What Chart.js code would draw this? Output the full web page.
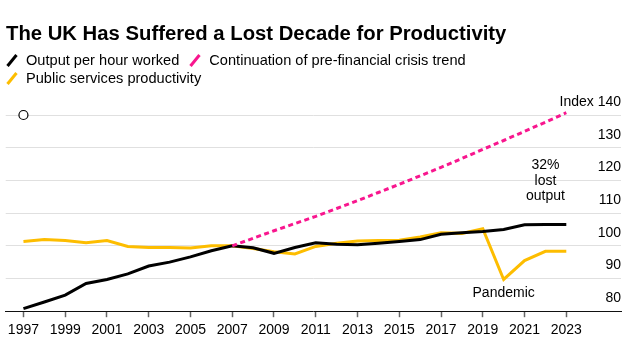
<!DOCTYPE html>
<html>
<head>
<meta charset="utf-8">
<script src="https://cdn.jsdelivr.net/npm/chart.js@4"></script>
<style>
  body { margin: 0; background: #fff; font-family: "Liberation Sans", Arial, sans-serif; color: #000; }
  #wrap { position: relative; width: 634px; height: 348px; }
  #chart { position: absolute; left: 0; top: 0; }
  .title { position: absolute; left: 6px; top: 23px; font-size: 20.3px; line-height: 20px; font-weight: bold; white-space: nowrap; }
  .legend { position: absolute; left: 6px; font-size: 14.6px; line-height: 18px; white-space: nowrap; }
  .legend span.item { display: inline-flex; align-items: center; margin-right: 10px; }
  .legend svg { margin-right: 8px; }
</style>
</head>
<body>
<div id="wrap">
  <canvas id="chart" width="634" height="348"></canvas>
  <div class="title">The UK Has Suffered a Lost Decade for Productivity</div>
  <div class="legend" id="legend1" style="top:51px"></div>
  <div class="legend" id="legend2" style="top:69px"></div>
</div>
<script>
const years = [1997, 1998, 1999, 2000, 2001, 2002, 2003, 2004, 2005, 2006, 2007, 2008, 2009, 2010,
  2011, 2012, 2013, 2014, 2015, 2016, 2017, 2018, 2019, 2020, 2021, 2022, 2023];

const outputPerHour = [80.8, 82.8, 84.9, 88.5, 89.7, 91.4, 93.8, 95.0, 96.6, 98.5, 100.0, 99.4, 97.7, 99.5,
  100.9, 100.5, 100.3, 100.8, 101.3, 101.9, 103.5, 104.0, 104.4, 105.0, 106.4, 106.5, 106.5];

const publicServices = [101.3, 101.9, 101.6, 100.9, 101.6, 99.8, 99.5, 99.5, 99.3, 100.0, 100.0, 99.2, 98.2, 97.5,
  99.8, 100.8, 101.5, 101.6, 101.7, 102.7, 104.0, 103.8, 105.2, 89.7, 95.5, 98.3, 98.3];

const preCrisisTrend = [null, null, null, null, null, null, null, null, null, null, 100.0, 102.3, 104.6, 106.8,
  109.0, 111.4, 113.8, 116.3, 118.8, 121.4, 124.0, 126.7, 129.5, 132.2, 135.0, 137.8, 140.7];

const xTickYears = [1997, 1999, 2001, 2003, 2005, 2007, 2009, 2011, 2013, 2015, 2017, 2019, 2021, 2023];
const yTicks = [80, 90, 100, 110, 120, 130, 140];

const seriesNames = ['Output per hour worked', 'Continuation of pre-financial crisis trend', 'Public services productivity'];
const seriesColors = ['#000000', '#f8168e', '#fdbd00'];

// little open circle sitting at the top-left of the plot
const markerPoint = [{ x: 1997, y: 140 }];

// annotations: [text lines, x year, y value]
const notes = [
  { lines: ['32%', 'lost', 'output'], x: 2022, y: 124.6 },
  { lines: ['Pandemic'], x: 2020, y: 85.6 }
];

function toPoints(values) {
  return years.map((y, i) => ({ x: y, y: values[i] }));
}

function legendItem(name, color) {
  return '<span class="item"><svg width="12" height="13"><line x1="1.5" y1="12" x2="10.5" y2="1" stroke="' + color +
    '" stroke-width="3"/></svg>' + name + '</span>';
}
document.getElementById('legend1').innerHTML = legendItem(seriesNames[0], seriesColors[0]) + legendItem(seriesNames[1], seriesColors[1]);
document.getElementById('legend2').innerHTML = legendItem(seriesNames[2], seriesColors[2]);

const notesPlugin = {
  id: 'notes',
  afterDatasetsDraw(chart) {
    const ctx = chart.ctx;
    const xs = chart.scales.x, ys = chart.scales.y;
    ctx.save();
    ctx.fillStyle = '#000';
    ctx.font = '14px "Liberation Sans", Arial, sans-serif';
    ctx.textAlign = 'center';
    ctx.textBaseline = 'middle';
    notes.forEach(n => {
      const px = xs.getPixelForValue(n.x);
      const py = ys.getPixelForValue(n.y);
      n.lines.forEach((t, i) => ctx.fillText(t, px, py + i * 15.5));
    });
    ctx.restore();
  }
};

new Chart(document.getElementById('chart'), {
  type: 'line',
  data: {
    datasets: [
      {
        label: seriesNames[1],
        data: toPoints(preCrisisTrend),
        borderColor: seriesColors[1],
        borderWidth: 3,
        borderDash: [5, 3.5],
        pointRadius: 0,
        clip: false
      },
      {
        label: seriesNames[0],
        data: toPoints(outputPerHour),
        borderColor: seriesColors[0],
        borderWidth: 3,
        pointRadius: 0
      },
      {
        label: seriesNames[2],
        data: toPoints(publicServices),
        borderColor: seriesColors[2],
        borderWidth: 3,
        pointRadius: 0
      },
      {
        label: 'marker',
        data: markerPoint,
        showLine: false,
        pointRadius: 4.5,
        pointBackgroundColor: '#fff',
        pointBorderColor: '#000',
        pointBorderWidth: 1.2,
        clip: false
      }
    ]
  },
  options: {
    responsive: false,
    animation: false,
    layout: { padding: { left: 5, right: 13, top: 115, bottom: 4 } },
    plugins: { legend: { display: false }, tooltip: { enabled: false } },
    scales: {
      x: {
        type: 'linear',
        min: 1996.15,
        max: 2025.62,
        afterBuildTicks: scale => { scale.ticks = xTickYears.map(v => ({ value: v })); },
        grid: { drawOnChartArea: false, drawTicks: true, tickLength: 6, tickColor: '#666', tickWidth: 1.5 },
        border: { display: true, color: '#111', width: 1 },
        ticks: {
          autoSkip: false, maxRotation: 0, padding: 5, color: '#000',
          font: { family: '"Liberation Sans", Arial, sans-serif', size: 14 },
          callback: v => String(v)
        }
      },
      y: {
        position: 'right',
        min: 80,
        max: 140,
        afterBuildTicks: scale => { scale.ticks = yTicks.map(v => ({ value: v })); },
        grid: {
          drawTicks: false,
          color: ctx => ctx.tick && ctx.tick.value === 80 ? 'rgba(0,0,0,0)' : '#e0e0e0',
          lineWidth: 1
        },
        border: { display: false },
        ticks: {
          mirror: true, padding: 0, labelOffset: -13, color: '#000',
          font: { family: '"Liberation Sans", Arial, sans-serif', size: 14 },
          callback: v => v === 140 ? 'Index 140' : String(v)
        }
      }
    }
  },
  plugins: [notesPlugin]
});
</script>
</body>
</html>
